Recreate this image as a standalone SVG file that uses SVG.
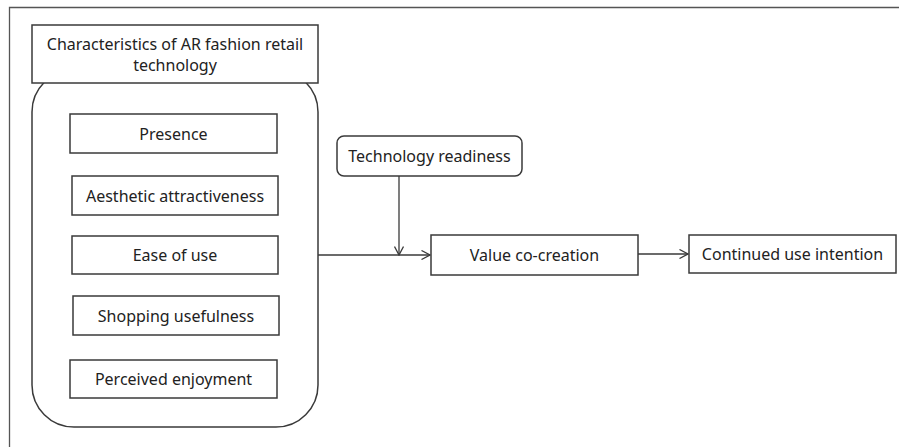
<svg xmlns="http://www.w3.org/2000/svg" width="899" height="447" viewBox="0 0 899 447">
<defs>
<style>
.box{fill:#fff;stroke:#3a3a3a;stroke-width:1.5}
.t{font-family:"Noto Sans","Open Sans",sans-serif;font-size:16px;fill:#222;text-anchor:middle;dominant-baseline:central}
.ln{fill:none;stroke:#3a3a3a;stroke-width:1.3}
</style>
<marker id="ah" viewBox="0 0 10 10" refX="9.5" refY="5" markerWidth="10" markerHeight="10" markerUnits="userSpaceOnUse" orient="auto">
<path d="M1,0.5 L9.5,5 L1,9.5" fill="none" stroke="#3a3a3a" stroke-width="1.3"/>
</marker>
</defs>
<rect width="899" height="447" fill="#fff"/>
<path d="M9.5,447 V7.5 H899" fill="none" stroke="#555" stroke-width="1.3"/>
<g id="container">
<rect class="box" x="32" y="70" width="286" height="357" rx="42" ry="42"/>
</g>
<g id="title">
<rect class="box" x="32" y="25" width="286" height="58"/>
<text class="t" x="175" y="44">Characteristics of AR fashion retail</text>
<text class="t" x="175" y="65">technology</text>
</g>
<g id="presence">
<rect class="box" x="70" y="114" width="207" height="39"/>
<text class="t" x="173.5" y="133.5">Presence</text>
</g>
<g id="aesthetic">
<rect class="box" x="72" y="176" width="206" height="39"/>
<text class="t" x="175" y="195.5">Aesthetic attractiveness</text>
</g>
<g id="ease">
<rect class="box" x="72" y="236" width="206" height="38"/>
<text class="t" x="175" y="255">Ease of use</text>
</g>
<g id="shopping">
<rect class="box" x="73" y="296" width="206" height="39"/>
<text class="t" x="176" y="315.5">Shopping usefulness</text>
</g>
<g id="enjoyment">
<rect class="box" x="70" y="360" width="207" height="38"/>
<text class="t" x="173.5" y="379">Perceived enjoyment</text>
</g>
<g id="readiness">
<rect class="box" x="337" y="136" width="185" height="40" rx="7" ry="7"/>
<text class="t" x="429.5" y="156">Technology readiness</text>
</g>
<g id="value">
<rect class="box" x="431" y="235" width="207" height="40"/>
<text class="t" x="534.5" y="255">Value co-creation</text>
</g>
<g id="continued">
<rect class="box" x="689" y="235" width="207" height="38"/>
<text class="t" x="792.5" y="254">Continued use intention</text>
</g>
<g id="connectors">
<line class="ln" x1="318" y1="255" x2="430" y2="255" marker-end="url(#ah)"/>
<line class="ln" x1="399" y1="176" x2="399" y2="255" marker-end="url(#ah)"/>
<line class="ln" x1="638" y1="254" x2="688" y2="254" marker-end="url(#ah)"/>
</g>
</svg>
